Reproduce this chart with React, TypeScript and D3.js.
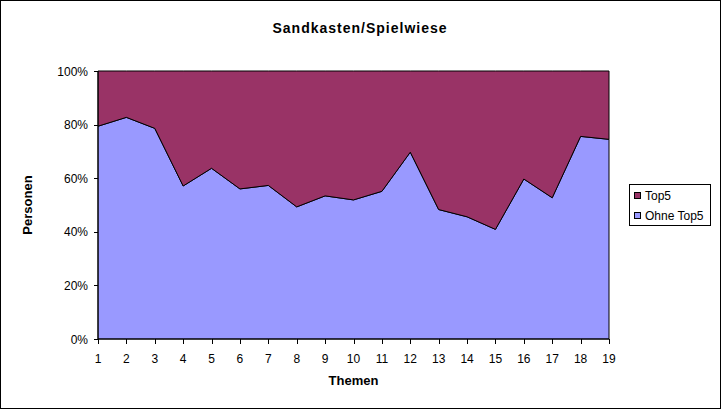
import React from "react";
import * as d3 from "d3";

const themen: number[] = [1, 2, 3, 4, 5, 6, 7, 8, 9, 10, 11, 12, 13, 14, 15, 16, 17, 18, 19];
const ohneTop5: number[] = [79.4, 82.7, 78.6, 57.1, 63.7, 56.0, 57.3, 49.3, 53.4, 51.9, 55.1, 69.7, 48.3, 45.6, 40.9, 59.7, 52.7, 75.6, 74.5];
const top5: number[] = ohneTop5.map((v) => 100 - v);
const yTicks: number[] = [0, 20, 40, 60, 80, 100];
const seriesKeys = ["Ohne Top5", "Top5"];
const colors: Record<string, string> = { "Ohne Top5": "#9999FF", Top5: "#993366" };

const W = 721;
const H = 409;
const FONT = "'Liberation Sans', Arial, sans-serif";

export default function App() {
  const x = d3.scaleLinear().domain([1, 19]).range([98, 609]);
  const y = d3.scaleLinear().domain([0, 100]).range([339, 71]);

  const rows = themen.map((t, i) => ({ t, "Ohne Top5": ohneTop5[i], Top5: top5[i] }));
  const stacked = d3.stack<any>().keys(seriesKeys)(rows);
  const area = d3
    .area<any>()
    .x((d) => x(d.data.t))
    .y0((d) => y(d[0]))
    .y1((d) => y(d[1]));

  return (
    <svg
      width={W}
      height={H}
      style={{ position: "fixed", left: 0, top: 0, background: "#fff" }}
      fontFamily={FONT}
    >
      <rect x={0.5} y={0.5} width={W - 1} height={H - 1} fill="#fff" stroke="#000" />
      <text x={360} y={33} textAnchor="middle" fontSize={14} fontWeight="bold" letterSpacing={1}>
        Sandkasten/Spielwiese
      </text>

      {stacked.map((s) => (
        <path key={s.key} d={area(s) || ""} fill={colors[s.key]} stroke="#000" strokeWidth={1} />
      ))}

      {/* axes */}
      <line x1={98} x2={98} y1={71} y2={339} stroke="#000" />
      <line x1={98} x2={609} y1={339} y2={339} stroke="#000" />
      {yTicks.map((t) => (
        <g key={t}>
          <line x1={94} x2={98} y1={Math.round(y(t)) + 0.5} y2={Math.round(y(t)) + 0.5} stroke="#000" />
          <text x={88} y={y(t) + 4.5} textAnchor="end" fontSize={12}>
            {t}%
          </text>
        </g>
      ))}
      {themen.map((t) => (
        <g key={t}>
          <line x1={Math.round(x(t)) + 0.5} x2={Math.round(x(t)) + 0.5} y1={339} y2={344} stroke="#000" />
          <text x={x(t)} y={363} textAnchor="middle" fontSize={12}>
            {t}
          </text>
        </g>
      ))}
      <text x={353.5} y={385} textAnchor="middle" fontSize={13} fontWeight="bold">
        Themen
      </text>
      <text
        transform="translate(32,205) rotate(-90)"
        textAnchor="middle"
        fontSize={13}
        fontWeight="bold"
      >
        Personen
      </text>

      {/* legend */}
      <rect x={629.5} y={184.5} width={81} height={41} fill="#fff" stroke="#000" />
      {["Top5", "Ohne Top5"].map((k, i) => (
        <g key={k}>
          <rect x={634.5} y={192.5 + i * 20} width={6} height={6} fill={colors[k]} stroke="#000" />
          <text x={645} y={200 + i * 20} fontSize={12}>
            {k}
          </text>
        </g>
      ))}
    </svg>
  );
}
